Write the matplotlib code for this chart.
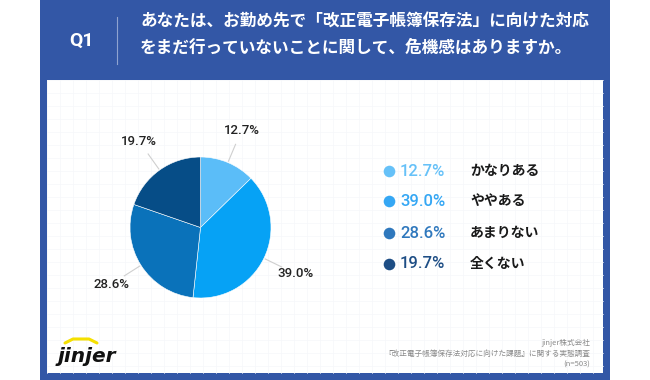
import numpy as np
import matplotlib
matplotlib.use("Agg")
import matplotlib.pyplot as plt
from matplotlib.patches import Rectangle

plt.rcParams['font.family'] = ['Noto Sans CJK JP', 'DejaVu Sans']

# ---- data ----
categories = ["かなりある", "ややある", "あまりない", "全くない"]
values = [12.7, 39.0, 28.6, 19.7]
pie_colors = ["#5BBDF8", "#06A2F5", "#0A72BA", "#064D87"]
legend_colors = ["#66C1F8", "#35A7F4", "#2F78BD", "#1E4E85"]
title_lines = ["あなたは、お勤め先で「改正電子帳簿保存法」に向けた対応",
               "をまだ行っていないことに関して、危機感はありますか。"]
question = "Q1"
footer_lines = ["jinjer株式会社",
                "『改正電子帳簿保存法対応に向けた課題』に関する実態調査",
                "(n=503)"]

W, H = 650, 380
fig = plt.figure(figsize=(6.5, 3.8), dpi=100)
fig.patch.set_facecolor("white")

bg = fig.add_axes([0, 0, 1, 1])
bg.set_xlim(0, W)
bg.set_ylim(H, 0)
bg.axis("off")

blue = "#3357A6"
bg.add_patch(Rectangle((40, 0), 570, 380, facecolor=blue, edgecolor="none"))
bg.add_patch(Rectangle((47, 80), 556, 293, facecolor="white", edgecolor="none"))
# faint grid on panel
for gx in np.arange(47, 603, 13):
    bg.plot([gx, gx], [80, 373], color="#F6F7FA", lw=0.5, zorder=1)
for gy in np.arange(80, 373, 13):
    bg.plot([47, 603], [gy, gy], color="#F6F7FA", lw=0.5, zorder=1)

num_font = ["Roboto", "DejaVu Sans"]

# header
bg.text(82, 41, question, color="white", fontsize=14, fontweight="bold",
        ha="center", va="center", family=num_font)
bg.plot([117, 117], [17, 64], color="#8FA3D0", lw=0.8)
bg.text(140, 22, title_lines[0], color="white", fontsize=12, fontweight="bold",
        ha="left", va="center")
bg.text(140, 48, title_lines[1], color="white", fontsize=12, fontweight="bold",
        ha="left", va="center")

# pie
cx, cy, R = 200.5, 227.5, 70.5
pax = fig.add_axes([(cx - R) / W, (H - cy - R) / H, 2 * R / W, 2 * R / H])
wedges, _ = pax.pie(values, colors=pie_colors, startangle=90, counterclock=False,
                    radius=1, wedgeprops=dict(edgecolor="white", linewidth=0.4))
pax.set_xlim(-1, 1)
pax.set_ylim(-1, 1)
pax.set_aspect("equal")
pax.axis("off")
for w, v in zip(wedges, values):
    ang = np.deg2rad((w.theta1 + w.theta2) / 2)
    c, s = np.cos(ang), np.sin(ang)
    pax.plot([1.02 * c, 1.28 * c], [1.02 * s, 1.28 * s], color="#CFCFCF",
             lw=0.8, clip_on=False)
    pax.text(1.5 * c, 1.5 * s, f"{v:.1f}%", ha="center", va="center",
             fontsize=9.5, color="#222222", fontweight="medium", clip_on=False,
             family=num_font)

# legend
rows_y = [171, 201, 233, 264]
for y, cat, v, col in zip(rows_y, categories, values, legend_colors):
    bg.scatter([389], [y], s=70, color=col, zorder=5, linewidths=0)
    bg.text(400, y, f"{v:.1f}%", color=col, fontsize=12, fontweight="medium",
            ha="left", va="center", family=num_font, zorder=5)
    bg.text(470, y, cat, color="#1A1A1A", fontsize=10, fontweight="bold",
            ha="left", va="center", zorder=5)

# footer
for y, t in zip([343, 354, 365], footer_lines):
    bg.text(590, y, t, color="#8A8A8A", fontsize=5.5, ha="right", va="center", zorder=5)

# logo
bg.plot([65, 73, 89, 97], [343, 339, 339, 343], color="#F5E000", lw=2.2,
        solid_capstyle="round", zorder=5)
bg.text(58, 356, "jinjer", color="#111111", fontsize=14.5, fontweight="bold",
        fontstyle="italic", ha="left", va="center", family=["DejaVu Sans"], zorder=5)

fig.savefig("out.png", dpi=100, facecolor="white")
